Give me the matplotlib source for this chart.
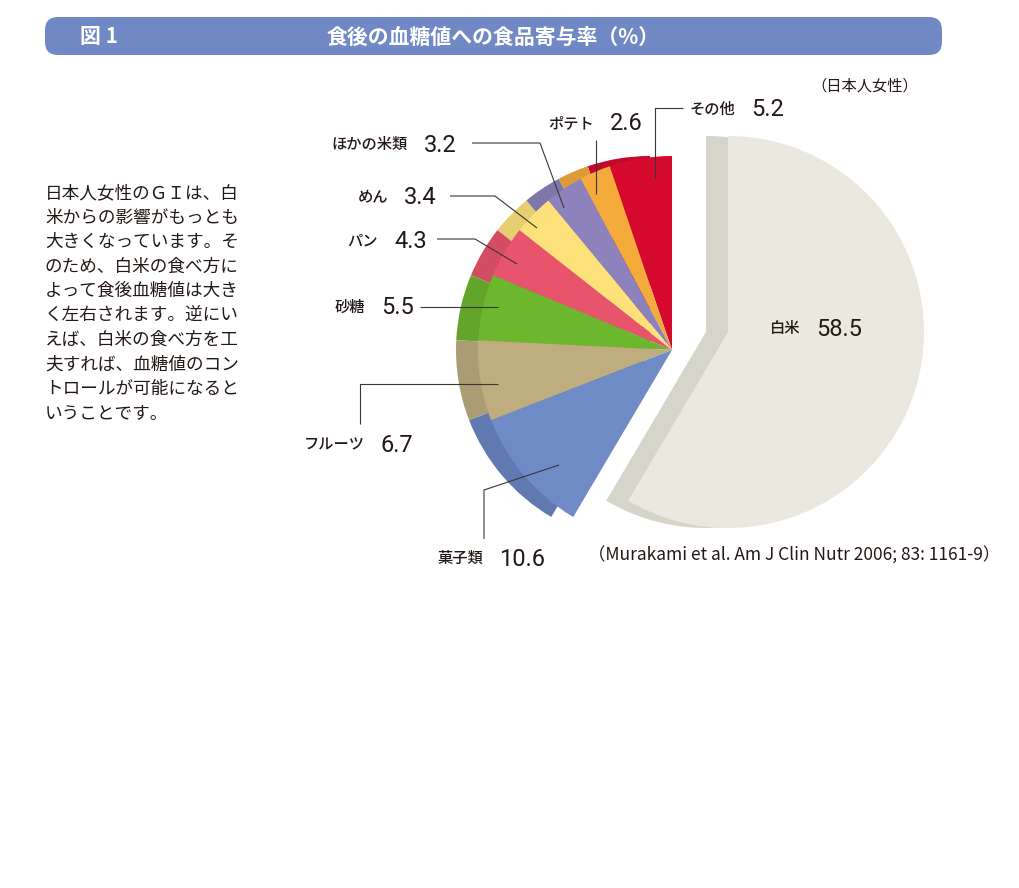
import matplotlib
matplotlib.use('Agg')
import matplotlib.pyplot as plt
from matplotlib.patches import FancyBboxPatch

# ---------------- data ----------------
categories = ['その他', 'ポテト', 'ほかの米類', 'めん', 'パン', '砂糖', 'フルーツ', '菓子類', '白米']
values = [5.2, 2.6, 3.2, 3.4, 4.3, 5.5, 6.7, 10.6, 58.5]
title = '食後の血糖値への食品寄与率（%）'
fig_label = '図 1'
subgroup = '（日本人女性）'
citation = '（Murakami et al. Am J Clin Nutr 2006; 83: 1161-9）'
paragraph = ['日本人女性のＧＩは、白',
             '米からの影響がもっとも',
             '大きくなっています。そ',
             'のため、白米の食べ方に',
             'よって食後血糖値は大き',
             'く左右されます。逆にい',
             'えば、白米の食べ方を工',
             '夫すれば、血糖値のコン',
             'トロールが可能になると',
             'いうことです。']

# ---------------- styles ----------------
face_colors = ['#d6092f', '#f4ab3c', '#8d82bb', '#fde17b', '#e8546b',
               '#6db72e', '#bfad80', '#6f8bc6', '#ebe9df']
shade_colors = ['#c00a2c', '#dd9a36', '#7f76aa', '#e6cd70', '#d24c62',
                '#62a52a', '#ab9c73', '#6079b0', '#d5d5ca']
text_color = '#231815'
line_color = '#3a3634'

plt.rcParams['font.family'] = ['Noto Sans CJK JP', 'DejaVu Sans']
NUM_FONT = ['Roboto', 'DejaVu Sans']

W, H = 1019, 888
fig = plt.figure(figsize=(W / 100, H / 100), dpi=100)
ax = fig.add_axes([0, 0, 1, 1])


def Y(y):
    return H - y


main_center = (672, Y(350))
main_r = 194
rice_center = (728, Y(332))
rice_r = 196
shift = 22
rice_idx = len(values) - 1
others_idx = list(range(len(values) - 1))


def draw_pie(center, radius, colors, visible):
    wedges, _ = ax.pie(values, colors=colors, startangle=90, counterclock=True,
                       center=center, radius=radius,
                       wedgeprops=dict(linewidth=0, antialiased=True))
    for i, w in enumerate(wedges):
        w.set_visible(i in visible)
    return wedges


# shadows (shifted left) then faces
draw_pie((main_center[0] - shift, main_center[1]), main_r, shade_colors, others_idx)
draw_pie((rice_center[0] - shift, rice_center[1]), rice_r, shade_colors, [rice_idx])
draw_pie(main_center, main_r, face_colors, others_idx)
draw_pie(rice_center, rice_r, face_colors, [rice_idx])

ax.set_xlim(0, W)
ax.set_ylim(0, H)
ax.set_aspect('auto')
ax.axis('off')

# ---------------- header bar ----------------
bar = FancyBboxPatch((45, Y(55)), 897, 38,
                     boxstyle='round,pad=0,rounding_size=13',
                     fc='#7089c5', ec='none')
ax.add_patch(bar)
ax.text(80, Y(37), fig_label, color='white', fontsize=15, fontweight='bold',
        va='center', ha='left')
ax.text(493, Y(37), title, color='white', fontsize=15, fontweight='bold',
        va='center', ha='center')

ax.text(918, Y(86), subgroup, color=text_color, fontsize=11, ha='right', va='center')

# ---------------- paragraph ----------------
for i, line in enumerate(paragraph):
    ax.text(45, Y(193 + i * 24.5), line, color=text_color, fontsize=12.7,
            ha='left', va='center')

# ---------------- labels ----------------
# (label right x, center y) per category
label_pos = [(735, 108), (594, 122), (408, 143), (388, 195), (378, 240),
             (365, 306), (365, 443), (483, 557), (800, 327)]
for cat, v, (xr, yc) in zip(categories, values, label_pos):
    ax.text(xr, Y(yc + 6), cat, color=text_color, fontsize=11, fontweight='medium',
            ha='right', va='baseline')
    ax.text(xr + 16, Y(yc + 8.5), f'{v:.1f}', color=text_color, fontsize=17,
            family=NUM_FONT, ha='left', va='baseline')

# leader lines (image coordinates)
leaders = [
    [(683, 108), (655, 108), (655, 178)],
    [(596, 140), (596, 194)],
    [(472, 143), (540, 143), (564, 208)],
    [(450, 196), (495, 196), (537, 228)],
    [(437, 239), (475, 239), (517, 264)],
    [(420, 307), (498, 307)],
    [(360, 424), (360, 384), (498, 384)],
    [(484, 539), (484, 490), (559, 465)],
]
for pts in leaders:
    xs = [p[0] for p in pts]
    ys = [Y(p[1]) for p in pts]
    ax.plot(xs, ys, color=line_color, lw=0.8, solid_capstyle='butt')

ax.text(588, Y(556), citation, color=text_color, fontsize=12.5,
        family=['Noto Sans CJK JP', 'DejaVu Sans'], ha='left', va='center')

fig.savefig('out.png', dpi=100, facecolor='white')
